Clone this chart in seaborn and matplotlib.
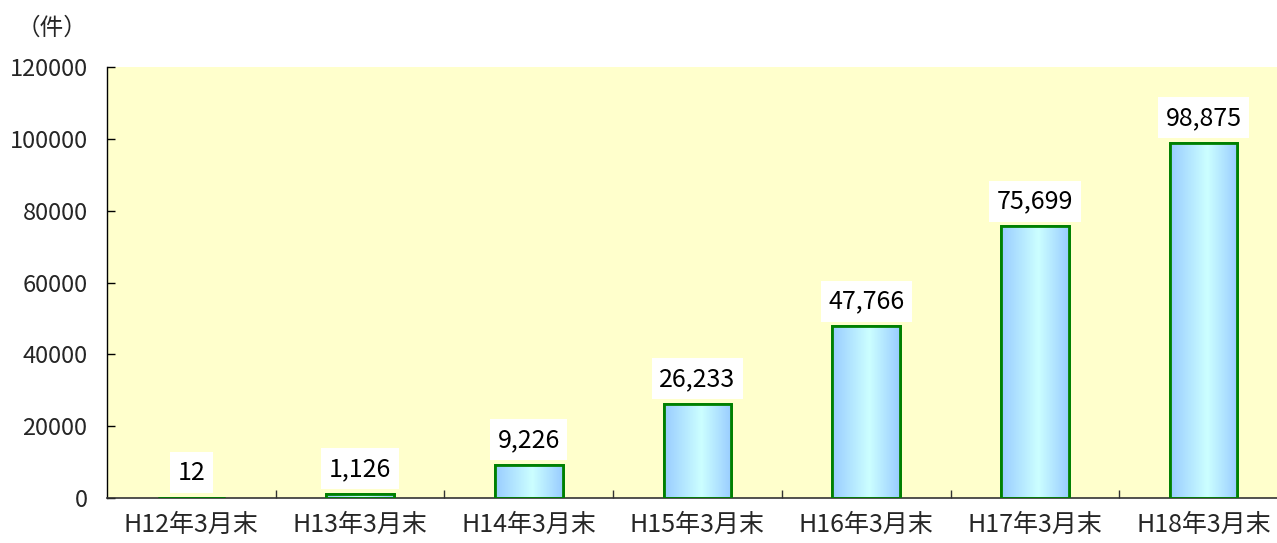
import numpy as np
import pandas as pd
import matplotlib
matplotlib.use("Agg")
import matplotlib.pyplot as plt
from matplotlib.colors import LinearSegmentedColormap
import seaborn as sns

categories = ["H12年3月末", "H13年3月末", "H14年3月末", "H15年3月末",
              "H16年3月末", "H17年3月末", "H18年3月末"]
values = [12, 1126, 9226, 26233, 47766, 75699, 98875]
yticks = [0, 20000, 40000, 60000, 80000, 100000, 120000]
unit_label = "（件）"

sns.set_theme(style="white")
plt.rcParams["font.family"] = ["Noto Sans CJK JP", "DejaVu Sans"]

df = pd.DataFrame({"cat": categories, "val": values})

fig = plt.figure(figsize=(12.77, 5.43), dpi=100)
fig.patch.set_facecolor("white")
ax = fig.add_axes([107 / 1277, 45 / 543, 1181 / 1277, 431 / 543])
ax.set_facecolor("#FFFFCC")

sns.barplot(data=df, x="cat", y="val", ax=ax, width=0.40,
            color="#99CCFF", edgecolor="#008000", linewidth=2, zorder=2)

cmap = LinearSegmentedColormap.from_list(
    "g", [(0, "#99CCFF"), (0.55, "#CCFFFF"), (1, "#99CCFF")])
grad = np.linspace(0, 1, 256).reshape(1, -1)
for p in ax.patches:
    x0, y0 = p.get_x(), p.get_y()
    w, h = p.get_width(), p.get_height()
    if h <= 0:
        continue
    im = ax.imshow(grad, cmap=cmap, aspect="auto",
                   extent=[x0, x0 + w, y0, y0 + h], zorder=2.5)
    im.set_clip_path(p)
    ax.add_patch(plt.Rectangle((x0, y0), w, h, fill=False,
                               edgecolor="#008000", linewidth=2, zorder=3))

for i, v in enumerate(values):
    ax.annotate(f"{v:,}", xy=(i, v), xytext=(0, 18), textcoords="offset points",
                ha="center", va="center", fontsize=18, color="black",
                bbox=dict(boxstyle="square,pad=0.3", fc="white", ec="none"),
                zorder=4)

ax.set_xlim(-0.5, len(categories) - 0.5)
ax.set_ylim(0, 120000)
ax.set_yticks(yticks)
ax.set_yticklabels([str(t) for t in yticks], fontsize=17)
ax.set_xticks(range(len(categories)))
ax.set_xticklabels(categories, fontsize=18)
ax.set_xticks(np.arange(0.5, len(categories) - 0.5, 1), minor=True)
ax.tick_params(axis="x", which="major", length=0, pad=10)
ax.tick_params(axis="x", which="minor", direction="in", length=6,
               width=1, color="#333333", bottom=True)
ax.tick_params(axis="y", which="major", direction="in", length=6,
               width=1, color="black", left=True, pad=14)
ax.set_xlabel("")
ax.set_ylabel("")

for s in ["top", "right"]:
    ax.spines[s].set_visible(False)
ax.spines["left"].set_color("black")
ax.spines["left"].set_linewidth(1)
ax.spines["bottom"].set_color("#333333")
ax.spines["bottom"].set_linewidth(1.2)

fig.text(52 / 1277, 1 - 28 / 543, unit_label, ha="center", va="center",
         fontsize=17)

fig.savefig("out.png", dpi=100)
